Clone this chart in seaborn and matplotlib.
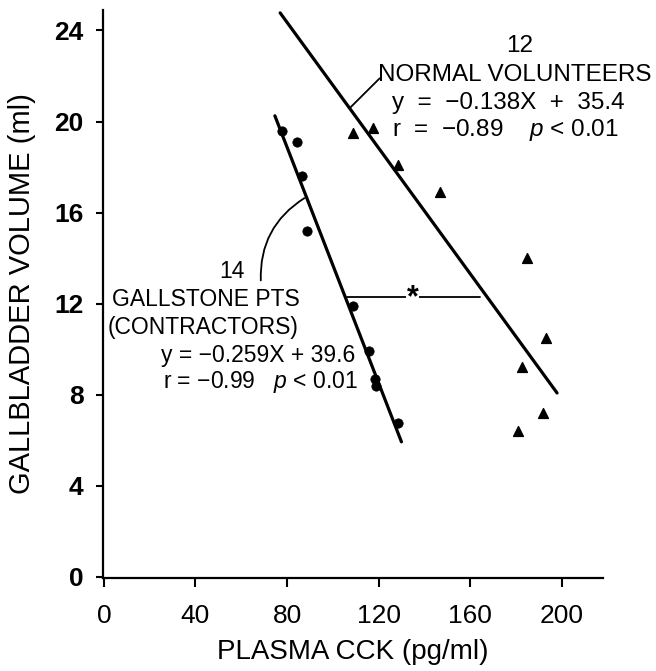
import matplotlib
matplotlib.use("Agg")
import matplotlib.pyplot as plt
import seaborn as sns
import numpy as np
import pandas as pd

# gallstone patients (contractors) - filled circles
gallstone_cck = [77.7, 84.3, 86.5, 88.6, 109.0, 115.7, 118.5, 119.0, 128.4]
gallstone_vol = [19.6, 19.1, 17.6, 15.2, 11.9, 9.9, 8.7, 8.4, 6.75]

# normal volunteers - triangles
normal_cck = [108.7, 117.5, 128.4, 146.7, 185.0, 193.0, 182.5, 191.7, 180.8]
normal_vol = [19.5, 19.7, 18.1, 16.9, 14.0, 10.5, 9.2, 7.2, 6.4]

# regression lines as printed on the chart
gallstone_fit = (-0.259, 39.6)
normal_fit = (-0.138, 35.4)
gallstone_range = [74.7, 130.0]
normal_range = [77.0, 198.0]

x_ticks = [0, 40, 80, 120, 160, 200]
y_ticks = [0, 4, 8, 12, 16, 20, 24]

sns.set_style("white")
plt.rcParams['font.family'] = ['Liberation Sans', 'DejaVu Sans']
plt.rcParams['mathtext.fontset'] = 'custom'
plt.rcParams['mathtext.it'] = 'Liberation Sans:italic'
plt.rcParams['mathtext.rm'] = 'Liberation Sans'
for k in ['text.color', 'axes.labelcolor', 'xtick.color', 'ytick.color']:
    plt.rcParams[k] = 'black'

fig = plt.figure(figsize=(6.56, 6.71), dpi=100)
ax = fig.add_axes([0.157, 0.1386, 0.762, 0.8465])

gs = pd.DataFrame({"cck": gallstone_cck, "vol": gallstone_vol})
nv = pd.DataFrame({"cck": normal_cck, "vol": normal_vol})

sns.scatterplot(data=gs, x="cck", y="vol", ax=ax, marker="o", s=45,
                color="black", edgecolor="black", zorder=3)
sns.scatterplot(data=nv, x="cck", y="vol", ax=ax, marker="^", s=50,
                color="black", edgecolor="black", linewidth=1, zorder=3)

# fitted lines
for (m, b), rng in [(gallstone_fit, gallstone_range), (normal_fit, normal_range)]:
    xs = np.array(rng)
    line = pd.DataFrame({"cck": xs, "vol": m * xs + b})
    sns.lineplot(data=line, x="cck", y="vol", ax=ax, color="black", lw=2.3)

ax.set_xlim(-0.4, 218)
ax.set_ylim(-0.05, 24.9)
ax.set_xticks(x_ticks)
ax.set_yticks(y_ticks)
ax.set_xticklabels([str(t) for t in x_ticks], fontsize=19)
ax.set_yticklabels([str(t) for t in y_ticks], fontsize=19, fontweight="bold")
ax.tick_params(axis="x", direction="out", length=6.5, width=1.5, pad=12, bottom=True)
ax.tick_params(axis="y", direction="out", length=5, width=1.5, pad=9, left=True)
sns.despine(ax=ax)
for s in ["left", "bottom"]:
    ax.spines[s].set_linewidth(1.6)
    ax.spines[s].set_color("black")

ax.set_xlabel("PLASMA CCK (pg/ml)", fontsize=20, labelpad=8)
ax.set_ylabel("GALLBLADDER VOLUME (ml)", fontsize=21, labelpad=13)

# normal volunteers label
fs = 17.5
ax.text(181.7, 23.3, "12", fontsize=fs, ha="center", va="center")
ax.text(179.5, 22.06, "NORMAL VOLUNTEERS", fontsize=fs, ha="center", va="center")
ax.text(126, 20.8, "y  =  \u22120.138X  +  35.4", fontsize=fs, ha="left", va="center")
ax.text(126, 19.65, r"r  =  $-$0.89    $\it{p}$ < 0.01", fontsize=fs, ha="left", va="center")
ax.plot([107.5, 120.5], [20.6, 21.9], color="black", lw=1.3)

# gallstone label
fs2 = 16.5
ax.text(56, 13.4, "14", fontsize=fs2, ha="center", va="center")
ax.text(44.5, 12.2, "GALLSTONE PTS", fontsize=fs2, ha="center", va="center")
ax.text(43.5, 10.96, "(CONTRACTORS)", fontsize=fs2, ha="center", va="center")
ax.text(110, 9.74, "y = \u22120.259X + 39.6", fontsize=fs2, ha="right", va="center")
ax.text(26, 8.55, r"r = $-$0.99   $\it{p}$ < 0.01", fontsize=fs2, ha="left", va="center")
ax.annotate("", xy=(88.6, 16.7), xytext=(68.6, 12.9),
            arrowprops=dict(arrowstyle="-", color="black", lw=1.3,
                            connectionstyle="arc3,rad=-0.3"))

# significance bar
ax.plot([106, 164.5], [12.3, 12.3], color="black", lw=1.3)
ax.text(135, 12.25, "*", fontsize=22, fontweight="bold", ha="center", va="center",
        bbox=dict(facecolor="white", edgecolor="none", pad=0.5))

fig.savefig("out.png", dpi=100)
